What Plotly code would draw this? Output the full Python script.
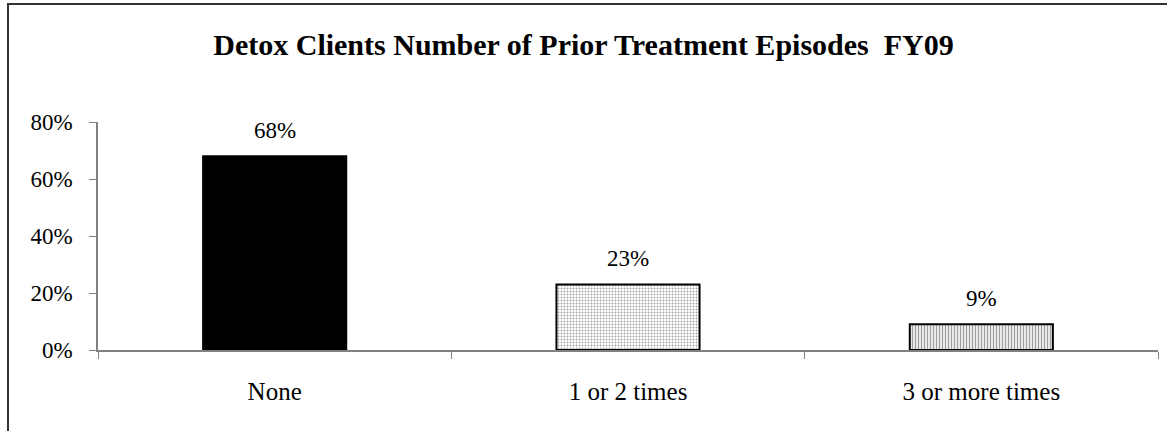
import plotly.graph_objects as go

categories = ["None", "1 or 2 times", "3 or more times"]
values = [0.68, 0.23, 0.09]
labels = ["68%", "23%", "9%"]
y_ticks = [0, 0.2, 0.4, 0.6, 0.8]
y_tick_labels = ["0%", "20%", "40%", "60%", "80%"]

W, H = 1167, 431
ml, mr, mt, mb = 98, 9, 122, 81
pw, ph = W - ml - mr, H - mt - mb

fig = go.Figure()
fig.add_trace(go.Bar(
    x=categories, y=values, width=0.405,
    marker=dict(
        color=["black", "white", "white"],
        line=dict(color="black", width=2),
        pattern=dict(shape=["", ".", "|"], fgcolor=["black", "#b0b0b0", "#888888"],
                     bgcolor=["black", "white", "white"], size=[6, 3, 3], solidity=[0.5, 0.3, 0.5]),
    ),
    hoverinfo="skip",
))
for c, v, t in zip(categories, values, labels):
    fig.add_annotation(x=c, y=v, text=t, showarrow=False, yshift=26,
                       font=dict(family="Liberation Serif", size=23, color="black"))

def px_x(x):
    return (x - ml) / pw

def px_y(y):
    return (H - mb - y) / ph

fig.add_shape(type="rect", xref="paper", yref="paper",
              x0=px_x(8), x1=px_x(1180), y0=px_y(440), y1=px_y(4),
              line=dict(color="#333333", width=2), fillcolor="rgba(0,0,0,0)")

fig.update_layout(
    width=W, height=H,
    margin=dict(l=ml, r=mr, t=mt, b=mb),
    paper_bgcolor="white", plot_bgcolor="white",
    showlegend=False,
    bargap=0.6,
    title=dict(text="<b>Detox Clients Number of Prior Treatment Episodes  FY09</b>",
               x=0.5, xref="container", xanchor="center", y=1 - 44 / H, yanchor="middle",
               font=dict(family="Liberation Serif", size=30, color="black")),
    font=dict(family="Liberation Serif", size=23, color="black"),
)
fig.update_xaxes(
    showline=True, linecolor="#808080", linewidth=1.5,
    ticks="outside", ticklen=7, tickcolor="#808080", tickson="boundaries",
    showgrid=False, ticklabelstandoff=18, tickfont=dict(size=25),
)
fig.update_yaxes(
    range=[0, 0.8], tickvals=y_ticks, ticktext=y_tick_labels,
    showline=True, linecolor="#808080", linewidth=1.5,
    ticks="outside", ticklen=7, tickcolor="#808080",
    showgrid=False, zeroline=False, ticklabelstandoff=12,
)

fig.write_html("out.html", config={"displayModeBar": False},
               post_script="document.body.style.margin='0';document.body.style.overflow='hidden';")
